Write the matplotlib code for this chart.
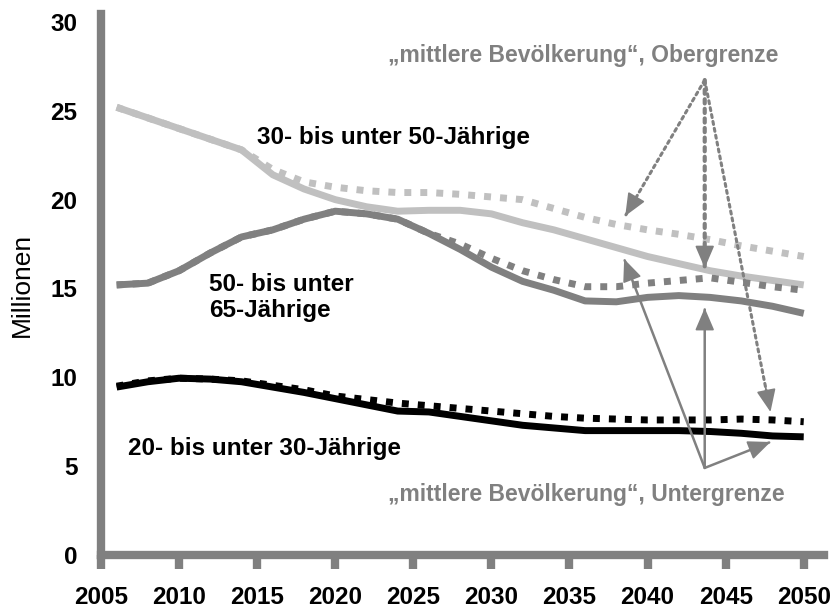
import matplotlib

matplotlib.use("Agg")
import matplotlib.pyplot as plt

plt.rcParams["font.family"] = ["Liberation Sans", "DejaVu Sans"]

# --- data (Millionen) -------------------------------------------------------
years = [2006, 2008, 2010, 2012, 2014, 2016, 2018, 2020, 2022, 2024, 2026, 2028,
         2030, 2032, 2034, 2036, 2038, 2040, 2042, 2044, 2046, 2048, 2050]

age30_50_low = [25.2, 24.6, 24.0, 23.4, 22.8, 21.4, 20.6, 20.0, 19.6, 19.35, 19.4, 19.4,
                19.2, 18.7, 18.3, 17.8, 17.3, 16.8, 16.4, 16.0, 15.7, 15.45, 15.2]
age30_50_high = [25.2, 24.6, 24.0, 23.4, 22.8, 21.7, 21.0, 20.7, 20.5, 20.4, 20.4, 20.3,
                 20.15, 20.0, 19.5, 19.0, 18.6, 18.3, 18.05, 17.75, 17.4, 17.1, 16.8]
age50_65_low = [15.2, 15.3, 16.0, 17.0, 17.9, 18.3, 18.9, 19.35, 19.2, 18.9, 18.1, 17.2,
                16.2, 15.4, 14.9, 14.3, 14.25, 14.5, 14.6, 14.5, 14.3, 14.0, 13.6]
age50_65_high = [15.2, 15.3, 16.0, 17.0, 17.9, 18.3, 18.9, 19.35, 19.2, 18.9, 18.1, 17.5,
                 16.7, 16.0, 15.5, 15.1, 15.1, 15.3, 15.45, 15.6, 15.35, 15.1, 14.9]
age20_30_low = [9.45, 9.75, 9.95, 9.9, 9.75, 9.45, 9.15, 8.8, 8.45, 8.1, 8.05, 7.8,
                7.55, 7.3, 7.15, 7.0, 7.0, 7.0, 7.0, 6.95, 6.85, 6.7, 6.65]
age20_30_high = [9.5, 9.8, 9.95, 9.9, 9.8, 9.55, 9.3, 8.95, 8.75, 8.55, 8.4, 8.25,
                 8.1, 7.95, 7.8, 7.7, 7.65, 7.6, 7.6, 7.6, 7.65, 7.6, 7.5]

xticks = list(range(2005, 2051, 5))
yticks = [0, 5, 10, 15, 20, 25, 30]

GREY = "#808080"
LIGHT = "#c0c0c0"
DASH = (0, (1.0, 1.3))
HEAD = "-|>,head_length=0.7,head_width=0.3"


def arrow(ax, src, tgt, lw, dotted):
    # shaft, then a solid head on the last bit of it
    ls = (0, (1, 1.3)) if dotted else "-"
    ax.annotate("", xy=tgt, xytext=src,
                arrowprops=dict(arrowstyle="-", color=GREY, lw=lw, linestyle=ls,
                                shrinkA=0, shrinkB=1))
    near = (tgt[0] - 0.08 * (tgt[0] - src[0]), tgt[1] - 0.08 * (tgt[1] - src[1]))
    ax.annotate("", xy=tgt, xytext=near,
                arrowprops=dict(arrowstyle=HEAD, color=GREY, lw=1.2,
                                mutation_scale=20, shrinkA=0, shrinkB=0))


def main():
    fig = plt.figure(figsize=(8.37, 6.08), dpi=100)
    ax = fig.add_axes([0.1207, 0.0872, 0.8638, 0.8898])

    series = [
        (age30_50_low, age30_50_high, LIGHT),
        (age50_65_low, age50_65_high, GREY),
        (age20_30_low, age20_30_high, "black"),
    ]
    for low, high, col in series:
        ax.plot(years, low, color=col, lw=5, solid_capstyle="butt")
        ax.plot(years, high, color=col, lw=5, linestyle=DASH, dash_capstyle="butt")

    ax.set_xlim(2005, 2051.3)
    ax.set_ylim(0, 30.45)
    ax.set_xticks(xticks)
    ax.set_yticks(yticks)
    for side in ("top", "right"):
        ax.spines[side].set_visible(False)
    for side in ("left", "bottom"):
        ax.spines[side].set_color(GREY)
        ax.spines[side].set_linewidth(6)
    ax.tick_params(axis="x", direction="out", length=10, width=6, color=GREY,
                   pad=12, labelsize=17.5)
    ax.tick_params(axis="y", length=0, pad=17, labelsize=17.5)
    for lab in ax.get_xticklabels() + ax.get_yticklabels():
        lab.set_fontweight("bold")
    ax.set_ylabel("Millionen", fontsize=19, labelpad=12)

    lbl = dict(fontsize=17.5, fontweight="bold", va="center", ha="left")
    ax.text(2015.0, 23.47, "30- bis unter 50-Jährige", **lbl)
    ax.text(2011.9, 14.49, "50- bis unter\n65-Jährige", linespacing=1.2, **lbl)
    ax.text(2006.7, 5.97, "20- bis unter 30-Jährige", **lbl)
    note = dict(lbl, fontsize=16.5, color=GREY)
    ax.text(2023.35, 28.14, "\u201emittlere Bevölkerung\u201c, Obergrenze", **note)
    ax.text(2023.35, 3.43, "\u201emittlere Bevölkerung\u201c, Untergrenze", **note)

    # dotted arrows: upper bound
    src_hi = (2043.66, 26.73)
    for tgt, lw in [((2038.57, 19.08), 2.2), ((2043.66, 16.15), 3.0), ((2047.87, 8.05), 2.2)]:
        arrow(ax, src_hi, tgt, lw, dotted=True)
    # solid arrows: lower bound
    src_lo = (2043.66, 4.9)
    for tgt in [(2038.5, 16.66), (2043.66, 13.9), (2047.87, 6.36)]:
        arrow(ax, src_lo, tgt, 1.8, dotted=False)

    fig.savefig("out.png", dpi=100)


if __name__ == "__main__":
    main()
